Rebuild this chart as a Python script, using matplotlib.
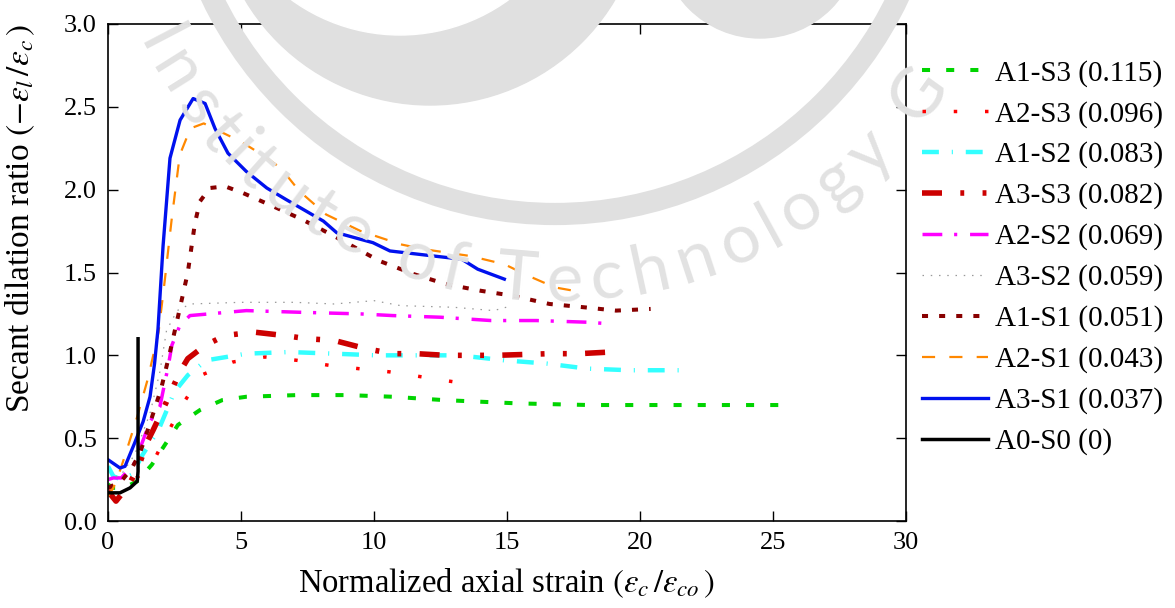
import numpy as np
import matplotlib
matplotlib.use("Agg")
import matplotlib.pyplot as plt
from matplotlib.patches import Arc, Ellipse
from matplotlib.font_manager import FontProperties

plt.rcParams["font.family"] = ["Liberation Serif", "DejaVu Serif"]
plt.rcParams["mathtext.fontset"] = "stix"

# series data (x = normalized axial strain, y = secant dilation ratio)
a1s3_x = [0, 0.2, 0.6, 1.1, 1.65, 2.14, 2.63, 3.46, 4.3, 5.2, 7.1, 9.0, 10.7, 12.6, 15.4, 18.1, 21.8, 25.5]
a1s3_y = [0.22, 0.2, 0.2, 0.24, 0.34, 0.46, 0.58, 0.67, 0.73, 0.75, 0.76, 0.76, 0.75, 0.73, 0.71, 0.70, 0.70, 0.70]

a2s3_x = [0, 0.5, 1.0, 1.5, 1.77, 2.27, 2.83, 3.5, 4.7, 5.9, 7.1, 8.3, 9.4, 10.6, 11.8, 13.0]
a2s3_y = [0.2, 0.2, 0.25, 0.32, 0.38, 0.54, 0.71, 0.88, 0.96, 0.99, 0.97, 0.94, 0.92, 0.90, 0.87, 0.84]

a1s2_x = [0, 0.2, 0.5, 0.9, 1.3, 1.9, 2.5, 3.0, 3.7, 5.2, 6.8, 8.5, 10.1, 11.6, 13.2, 14.9, 16.5, 18.0, 19.6, 21.6]
a1s2_y = [0.33, 0.27, 0.25, 0.28, 0.4, 0.55, 0.78, 0.88, 0.97, 1.01, 1.02, 1.01, 1.0, 1.0, 1.0, 0.97, 0.95, 0.92, 0.91, 0.91]

a3s3_x = [0, 0.3, 0.8, 1.2, 1.45, 1.7, 2.2, 2.7, 3.0, 3.65, 4.4, 5.5, 6.6, 7.5, 8.5, 9.7, 10.7, 11.6, 12.7, 14.6, 16.6, 17.7, 18.9]
a3s3_y = [0.18, 0.12, 0.22, 0.35, 0.47, 0.55, 0.72, 0.9, 0.98, 1.06, 1.12, 1.14, 1.12, 1.10, 1.09, 1.04, 1.01, 1.01, 1.0, 1.0, 1.01, 1.01, 1.02]

a2s2_x = [0, 0.2, 0.5, 1.0, 1.58, 1.95, 2.27, 2.4, 2.7, 3.08, 5.2, 7.2, 9.5, 10.7, 12.5, 14.4, 16.1, 18.0, 18.9]
a2s2_y = [0.25, 0.26, 0.26, 0.35, 0.6, 0.69, 0.94, 1.06, 1.18, 1.24, 1.27, 1.26, 1.25, 1.24, 1.23, 1.21, 1.21, 1.20, 1.19]

a3s2_x = [0, 0.5, 1.0, 1.58, 1.95, 2.2, 2.6, 3.1, 5.0, 7.0, 8.5, 10.0, 11.0, 13.0, 14.5, 15.2]
a3s2_y = [0.25, 0.28, 0.4, 0.65, 0.9, 1.15, 1.27, 1.31, 1.32, 1.32, 1.31, 1.33, 1.30, 1.29, 1.27, 1.30]

a1s1_x = [0, 0.5, 0.9, 1.2, 1.6, 2.0, 2.33, 2.64, 3.0, 3.27, 3.46, 3.83, 4.4, 5.07, 6.2, 7.3, 8.5,
          10.2, 11.5, 12.7, 14.0, 15.2, 16.6, 17.9, 19.1, 20.4]
a1s1_y = [0.2, 0.24, 0.32, 0.41, 0.6, 0.8, 1.02, 1.24, 1.5, 1.8, 1.93, 2.01, 2.02, 1.98, 1.90, 1.82, 1.72,
          1.57, 1.49, 1.43, 1.39, 1.36, 1.31, 1.29, 1.27, 1.28]

a2s1_x = [0, 0.2, 0.4, 0.65, 1.1, 1.5, 1.9, 2.14, 2.4, 2.7, 3.1, 3.6, 4.1, 5.0, 5.8, 6.5, 7.2, 8.2,
          9.5, 11.0, 11.9, 13.6, 14.9, 15.8, 16.8, 17.5]
a2s1_y = [0.15, 0.2, 0.28, 0.4, 0.63, 0.86, 1.14, 1.46, 1.83, 2.21, 2.37, 2.4, 2.36, 2.29, 2.21, 2.13, 1.99, 1.85,
          1.75, 1.67, 1.64, 1.60, 1.55, 1.48, 1.41, 1.39]

a3s1_x = [0, 0.45, 0.64, 1.0, 1.32, 1.58, 1.75, 1.88, 2.07, 2.33, 2.71, 3.2, 3.65, 4.02, 4.51, 5.2, 5.97,
          6.7, 8.1, 8.6, 9.96, 10.6, 13.3, 13.9, 14.4, 14.9]
a3s1_y = [0.37, 0.32, 0.33, 0.47, 0.6, 0.75, 0.95, 1.16, 1.66, 2.19, 2.42, 2.55, 2.52, 2.37, 2.22, 2.11, 2.01,
          1.94, 1.81, 1.74, 1.68, 1.63, 1.58, 1.52, 1.49, 1.46]

a0s0_x = [0, 0.45, 0.83, 1.1, 1.13, 1.13]
a0s0_y = [0.17, 0.17, 0.2, 0.24, 0.3, 1.1]

labels = ["A1-S3 (0.115)", "A2-S3 (0.096)", "A1-S2 (0.083)", "A3-S3 (0.082)", "A2-S2 (0.069)",
          "A3-S2 (0.059)", "A1-S1 (0.051)", "A2-S1 (0.043)", "A3-S1 (0.037)", "A0-S0 (0)"]

wm_text = "Institute of Technology G"

W, H = 1175, 608
fig = plt.figure(figsize=(W / 100, H / 100), dpi=100)


def fx(px):
    return px / W


def fy(py):
    return 1 - py / H


def disc(x, y, r, color):
    # circle given in pixels, drawn in figure fractions
    return Ellipse((fx(x), fy(y)), 2 * r / W, 2 * r / H, transform=fig.transFigure,
                   color=color, zorder=0)


# faint watermark behind the plot: logo shapes + text on an arc
wm = "#e0e0e0"
cx, cy = 555, -166
fig.patches.append(disc(430, -110, 215, wm))
fig.patches.append(disc(400, -150, 185, "white"))
fig.patches.append(disc(760, -62, 100, wm))
fig.patches.append(Arc((fx(cx), fy(cy)), 2 * 380 / W, 2 * 380 / H, theta1=180, theta2=360,
                       transform=fig.transFigure, color=wm, lw=16, zorder=0))

# place each letter along a circle, spaced by its own width
wm_font = FontProperties(family=["Lato", "DejaVu Sans"], size=50)
renderer = fig.canvas.get_renderer()
widths = [renderer.get_text_width_height_descent(ch if ch != " " else "n", wm_font, ismath=False)[0]
          * (0.5 if ch == " " else 1.0) for ch in wm_text]
centres = np.cumsum(widths) - np.array(widths) / 2
a_start, a_end = 207.6, 324.4
angles = a_start + (centres - centres[0]) / (centres[-1] - centres[0]) * (a_end - a_start)
r = 448
for ch, a in zip(wm_text, angles):
    t = np.deg2rad(a)
    fig.text(fx(cx + r * np.cos(t)), fy(cy - r * np.sin(t)), ch, fontproperties=wm_font,
             color="#e2e2e2", rotation=a + 90, ha="center", va="center", zorder=0)

ax = fig.add_axes([fx(108), fy(521), (906 - 108) / W, (521 - 24) / H])
ax.patch.set_alpha(0)

ax.plot(a1s3_x, a1s3_y, color="#00d400", lw=2.9, dashes=(2, 4), label=labels[0])
ax.plot(a2s3_x, a2s3_y, color="#ff0000", lw=2.5, dashes=(1, 8), label=labels[1])
ax.plot(a1s2_x, a1s2_y, color="#33ffff", lw=3.2, dashes=(3.8, 2.9, 0.25, 2.9), label=labels[2])
ax.plot(a3s3_x, a3s3_y, color="#cc0000", lw=4.0, dashes=(3.6, 3.3, 0.7, 3.3, 0.7, 3.3), label=labels[3])
ax.plot(a2s2_x, a2s2_y, color="#ff00ff", lw=2.5, dashes=(5.7, 3.4, 0.9, 3.7), label=labels[4])
ax.plot(a3s2_x, a3s2_y, color="#999999", lw=0.9, dashes=(1.2, 5.4), label=labels[5])
ax.plot(a1s1_x, a1s1_y, color="#880000", lw=2.9, dashes=(1.5, 2.75), label=labels[6])
ax.plot(a2s1_x, a2s1_y, color="#ff8800", lw=1.6, dashes=(5.9, 6.4), label=labels[7])
ax.plot(a3s1_x, a3s1_y, color="#0011ee", lw=2.4, label=labels[8])
ax.plot(a0s0_x, a0s0_y, color="black", lw=2.5, label=labels[9])

ax.set_xlim(0, 30)
ax.set_ylim(0, 3.0)
ax.set_xticks(np.arange(0, 31, 5))
ax.set_yticks(np.arange(0, 3.01, 0.5))
ax.yaxis.set_major_formatter(matplotlib.ticker.FormatStrFormatter("%.1f"))
ax.tick_params(direction="in", length=7, width=1, top=True, right=True, labelsize=19, pad=8)
for s in ax.spines.values():
    s.set_linewidth(1.2)

ax.set_xlabel(r"Normalized axial strain $(\varepsilon_c\,/\varepsilon_{co}\,)$", fontsize=23.5, labelpad=9)
ax.set_ylabel(r"Secant dilation ratio $(-\varepsilon_l\,/\varepsilon_c\,)$", fontsize=24)
ax.yaxis.set_label_coords(-0.089, 0.61)

fig.legend(loc="upper left", bbox_to_anchor=(fx(910), fy(48)), frameon=False, fontsize=21,
           handlelength=2.26, handletextpad=0.25, labelspacing=0.48, borderaxespad=0)

fig.savefig("out.png", dpi=100)
